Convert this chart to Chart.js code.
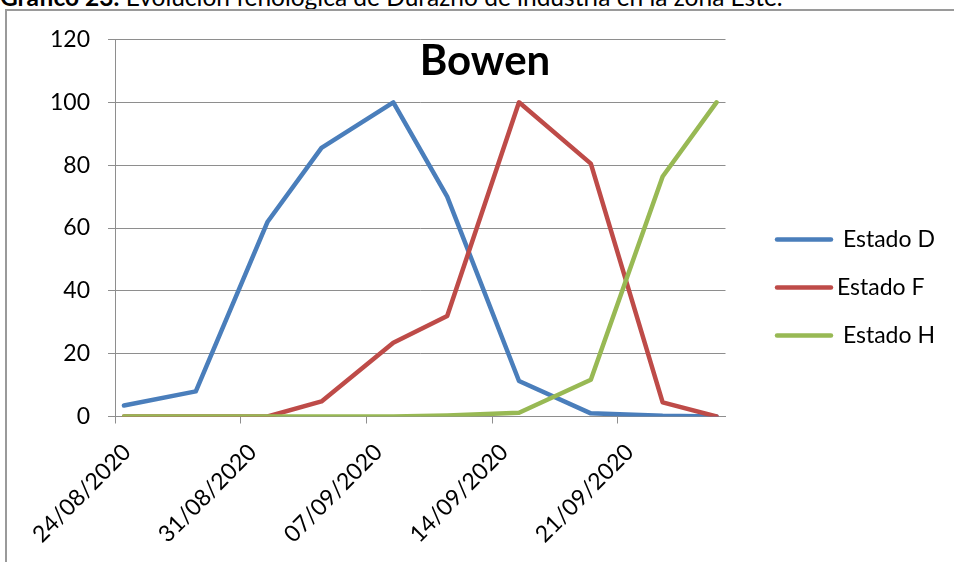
<!DOCTYPE html>
<html>
<head>
<meta charset="utf-8">
<script src="https://cdn.jsdelivr.net/npm/chart.js@4.4.1/dist/chart.umd.min.js"></script>
<style>
  html, body { margin: 0; padding: 0; background: #fff; overflow: hidden; }
  #wrap { position: relative; width: 954px; height: 562px; overflow: hidden; }
  #caption { position: absolute; left: 0; top: -18px; font: 24.5px Lato, sans-serif; line-height: 1.2; white-space: nowrap; color: #000; }
  #frame { position: absolute; left: 5px; top: 9px; width: 960px; height: 560px; border-top: 2px solid #9a9a9a; border-left: 2px solid #9a9a9a; }
  canvas { position: absolute; left: 0; top: 0; }
</style>
</head>
<body>
<div id="wrap">
  <div id="caption"><b>Gráfico 23.</b> Evolución fenológica de Durazno de industria en la zona Este.</div>
  <div id="frame"></div>
  <canvas id="grafico" width="954" height="562"></canvas>
</div>
<script>
// Fechas de muestreo (dd/mm/aaaa)
const fechas = ['24/08/2020', '28/08/2020', '01/09/2020', '04/09/2020', '08/09/2020',
                '11/09/2020', '15/09/2020', '19/09/2020', '23/09/2020', '26/09/2020'];

// Porcentaje de yemas/flores en cada estado fenológico
const estadoD = [3.5, 8, 62, 85.5, 100, 70, 11.3, 1, 0.2, 0];
const estadoF = [0, 0, 0, 4.8, 23.5, 32, 100, 80.5, 4.5, 0];
const estadoH = [0, 0, 0, 0, 0, 0.3, 1.2, 11.7, 76.4, 100];

const nombresSeries = [' Estado D', 'Estado F', ' Estado H'];
const coloresSeries = ['#4a7ebb', '#be4b48', '#98b954'];

// Eje de fechas
const etiquetasEje = ['24/08/2020', '31/08/2020', '07/09/2020', '14/09/2020', '21/09/2020'];
const inicioEje = '24/08/2020';
const finEje = '27/09/2020';

const ticksY = [0, 20, 40, 60, 80, 100, 120];
const tituloGrafico = 'Bowen';

const DIA = 86400000;
function aFecha(s) {
  const [d, m, a] = s.split('/').map(Number);
  return Date.UTC(a, m - 1, d);
}
const base = aFecha(inicioEje);
function diasDesdeInicio(s) { return Math.round((aFecha(s) - base) / DIA); }

// Cada fecha se ubica en el centro de su día
function puntos(valores) {
  return fechas.map((f, i) => ({ x: diasDesdeInicio(f) + 0.5, y: valores[i] }));
}

const fuente = 'Lato, "Liberation Sans", sans-serif';
const gris = '#8e8e8e';

const leyendaLateral = {
  id: 'leyendaLateral',
  afterDraw(chart, args, o) {
    const ctx = chart.ctx;
    ctx.save();
    ctx.font = o.fontSize + 'px ' + fuente;
    ctx.textBaseline = 'middle';
    ctx.textAlign = 'left';
    ctx.lineCap = 'round';
    chart.data.datasets.forEach((ds, i) => {
      const y = o.top + i * o.spacing;
      ctx.strokeStyle = ds.borderColor;
      ctx.lineWidth = ds.borderWidth;
      ctx.beginPath();
      ctx.moveTo(o.x, y);
      ctx.lineTo(o.x + o.lineLength, y);
      ctx.stroke();
      ctx.fillStyle = '#000';
      ctx.fillText(ds.label, o.x + o.lineLength + o.gap, y);
    });
    ctx.restore();
  }
};

const tituloInterior = {
  id: 'tituloInterior',
  afterDraw(chart, args, o) {
    const ctx = chart.ctx;
    ctx.save();
    ctx.font = 'bold ' + o.fontSize + 'px ' + fuente;
    ctx.fillStyle = '#000';
    ctx.textAlign = 'center';
    ctx.textBaseline = 'alphabetic';
    ctx.fillText(o.text, o.x, o.y);
    ctx.restore();
  }
};

const series = [estadoD, estadoF, estadoH];

new Chart(document.getElementById('grafico'), {
  type: 'line',
  data: {
    datasets: series.map((vals, i) => ({
      label: nombresSeries[i],
      data: puntos(vals),
      borderColor: coloresSeries[i],
      backgroundColor: coloresSeries[i],
      borderWidth: 4.5,
      pointRadius: 0,
      pointHoverRadius: 0,
      tension: 0,
      borderJoinStyle: 'round',
      borderCapStyle: 'round',
      order: series.length - i
    }))
  },
  options: {
    responsive: false,
    animation: false,
    devicePixelRatio: 1,
    layout: { padding: { left: 0, top: 39.5, right: 228.5, bottom: 0 } },
    plugins: {
      legend: { display: false },
      tooltip: { enabled: false },
      leyendaLateral: { x: 777, top: 239.5, spacing: 48, lineLength: 54, gap: 6, fontSize: 23 },
      tituloInterior: { text: tituloGrafico, x: 485, y: 75, fontSize: 42 }
    },
    scales: {
      x: {
        type: 'linear',
        min: 0,
        max: diasDesdeInicio(finEje),
        afterBuildTicks(scale) {
          scale.ticks = etiquetasEje.map(e => ({ value: diasDesdeInicio(e) }));
        },
        afterFit(scale) { scale.height = 145.5; },
        ticks: {
          autoSkip: false,
          minRotation: 45,
          maxRotation: 45,
          padding: 15,
          labelOffset: 12,
          color: '#000',
          font: { family: fuente, size: 23 },
          callback(value, index) { return etiquetasEje[index]; }
        },
        grid: { display: true, drawOnChartArea: false, drawTicks: true, tickLength: 7, color: gris, lineWidth: 1 },
        border: { display: true, color: gris, width: 1 }
      },
      y: {
        min: 0,
        max: 120,
        afterBuildTicks(scale) {
          scale.ticks = ticksY.map(v => ({ value: v }));
        },
        afterFit(scale) { scale.width = 115; },
        ticks: {
          padding: 18,
          color: '#000',
          font: { family: fuente, size: 23 }
        },
        grid: { color: gris, lineWidth: 1, tickLength: 7, drawTicks: true },
        border: { display: true, color: gris, width: 1 }
      }
    }
  },
  plugins: [leyendaLateral, tituloInterior]
});
</script>
</body>
</html>
